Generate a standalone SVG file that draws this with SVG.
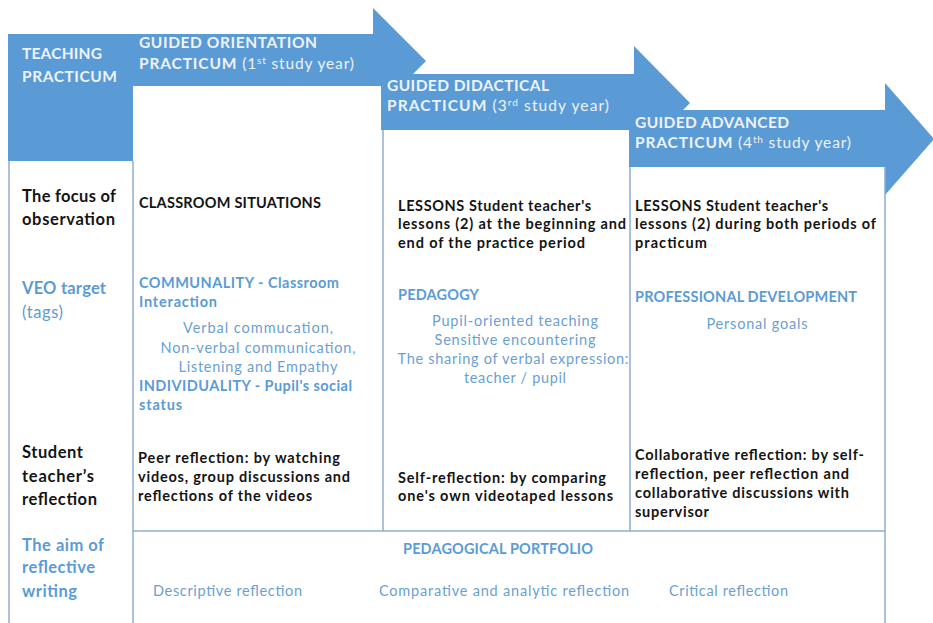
<svg xmlns="http://www.w3.org/2000/svg" width="933" height="623" viewBox="0 0 933 623">
<style>
text{font-family:Lato,"Open Sans","Liberation Sans",sans-serif;}
.arr{fill:#5b9bd5;}
.ht{fill:#eef3fa;font-size:15.5px;font-weight:bold;}
.hr{font-weight:normal;}
.lab{font-size:16.5px;font-weight:bold;fill:#141414;}
.labb{font-size:16.5px;font-weight:bold;fill:#5b9bd5;}
.labr{font-size:16.5px;font-weight:normal;fill:#5b9bd5;}
.b{font-size:14.5px;font-weight:bold;fill:#141414;}
.bb{font-size:14.5px;font-weight:bold;fill:#5b9bd5;}
.r{font-size:14.5px;font-weight:normal;fill:#6a9fd3;}
.c{text-anchor:middle;}
.grid line{stroke:#8fabcc;stroke-width:1.5;fill:none;}
</style>
<rect width="933" height="623" fill="#ffffff"/>

<g id="arrow-orientation">
<polygon class="arr" points="133,34 373,34 373,8 426,61 412,75 381,75 381,86 133,86"/>
<text class="ht" x="139" y="48" textLength="178">GUIDED ORIENTATION</text>
<text class="ht" x="139" y="69" textLength="215">PRACTICUM<tspan class="hr"> (1<tspan font-size="10" dy="-5">st</tspan><tspan dy="5"> study year)</tspan></tspan></text>
</g>

<g id="arrow-didactical">
<polygon class="arr" points="381,74 634,74 634,46 690,103 683,110 629,110 629,130 381,130"/>
<text class="ht" x="387" y="91" textLength="162">GUIDED DIDACTICAL</text>
<text class="ht" x="387" y="111" textLength="222">PRACTICUM<tspan class="hr"> (3<tspan font-size="10" dy="-5">rd</tspan><tspan dy="5">  study year)</tspan></tspan></text>
</g>

<g id="arrow-advanced">
<polygon class="arr" points="629,110 885,110 885,83 934,139 885,195 885,167 629,167"/>
<text class="ht" x="635" y="128" textLength="154">GUIDED ADVANCED</text>
<text class="ht" x="635" y="148" textLength="216">PRACTICUM<tspan class="hr"> (4<tspan font-size="10" dy="-5">th</tspan><tspan dy="5"> study year)</tspan></tspan></text>
</g>

<g id="teaching-practicum">
<rect class="arr" x="8" y="34" width="125" height="127"/>
<text class="ht" x="22" y="59" textLength="80">TEACHING</text>
<text class="ht" x="22" y="82" textLength="95">PRACTICUM</text>
</g>

<g id="grid" class="grid">
<line x1="9" y1="161" x2="9" y2="623"/>
<line x1="133" y1="161" x2="133" y2="623"/>
<line x1="383" y1="130" x2="383" y2="531"/>
<line x1="630" y1="167" x2="630" y2="531"/>
<line x1="885" y1="167" x2="885" y2="623"/>
<line x1="133" y1="531" x2="885" y2="531"/>
</g>

<g id="row-labels">
<text class="lab" x="22" y="202" textLength="94">The focus of</text>
<text class="lab" x="22" y="225" textLength="93">observation</text>
<text class="labb" x="22" y="294" textLength="84">VEO target</text>
<text class="labr" x="22" y="318" textLength="41">(tags)</text>
<text class="lab" x="22" y="458" textLength="61">Student</text>
<text class="lab" x="22" y="482" textLength="72">teacher’s</text>
<text class="lab" x="22" y="505" textLength="75">reflection</text>
<text class="labb" x="22" y="551" textLength="82">The aim of</text>
<text class="labb" x="22" y="573" textLength="73">reflective</text>
<text class="labb" x="22" y="597" textLength="55">writing</text>
</g>

<g id="orientation-cells">
<text class="b" x="139" y="208" textLength="182">CLASSROOM SITUATIONS</text>
<text class="bb" x="139" y="288" textLength="200">COMMUNALITY - Classroom</text>
<text class="bb" x="139" y="307" textLength="78">Interaction</text>
<text class="r c" x="258" y="333" textLength="150">Verbal commucation,</text>
<text class="r c" x="258" y="353" textLength="195">Non-verbal communication,</text>
<text class="r c" x="258" y="372" textLength="159">Listening and Empathy</text>
<text class="bb" x="139" y="391" textLength="213">INDIVIDUALITY - Pupil's social</text>
<text class="bb" x="139" y="410" textLength="43">status</text>
<text class="b" x="138" y="463" textLength="202">Peer reflection: by watching</text>
<text class="b" x="138" y="482" textLength="212">videos, group discussions and</text>
<text class="b" x="138" y="501" textLength="174">reflections of the videos</text>
</g>

<g id="didactical-cells">
<text class="b" x="398" y="211" textLength="193">LESSONS Student teacher's</text>
<text class="b" x="398" y="229" textLength="228">lessons (2) at the beginning and</text>
<text class="b" x="398" y="248" textLength="187">end of the practice period</text>
<text class="bb" x="398" y="300" textLength="81">PEDAGOGY</text>
<text class="r c" x="515" y="326" textLength="166">Pupil-oriented teaching</text>
<text class="r c" x="515" y="345" textLength="161">Sensitive encountering</text>
<text class="r c" x="513" y="364" textLength="231">The sharing of verbal expression:</text>
<text class="r c" x="515" y="383" textLength="102">teacher / pupil</text>
<text class="b" x="398" y="483" textLength="208">Self-reflection: by comparing</text>
<text class="b" x="398" y="501" textLength="215">one's own videotaped lessons</text>
</g>

<g id="advanced-cells">
<text class="b" x="635" y="211" textLength="193">LESSONS Student teacher's</text>
<text class="b" x="635" y="229" textLength="241">lessons (2) during both periods of</text>
<text class="b" x="635" y="248" textLength="72">practicum</text>
<text class="bb" x="635" y="302" textLength="222">PROFESSIONAL DEVELOPMENT</text>
<text class="r c" x="757" y="329" textLength="101">Personal goals</text>
<text class="b" x="635" y="460" textLength="229">Collaborative reflection: by self-</text>
<text class="b" x="635" y="479" textLength="214">reflection, peer reflection and</text>
<text class="b" x="635" y="498" textLength="214">collaborative discussions with</text>
<text class="b" x="635" y="517" textLength="74">supervisor</text>
</g>

<g id="portfolio">
<text class="bb" x="403" y="554" textLength="190">PEDAGOGICAL PORTFOLIO</text>
<text class="r" x="153" y="596" textLength="149">Descriptive reflection</text>
<text class="r" x="379" y="596" textLength="250">Comparative and analytic reflection</text>
<text class="r" x="669" y="596" textLength="119">Critical reflection</text>
</g>
</svg>
